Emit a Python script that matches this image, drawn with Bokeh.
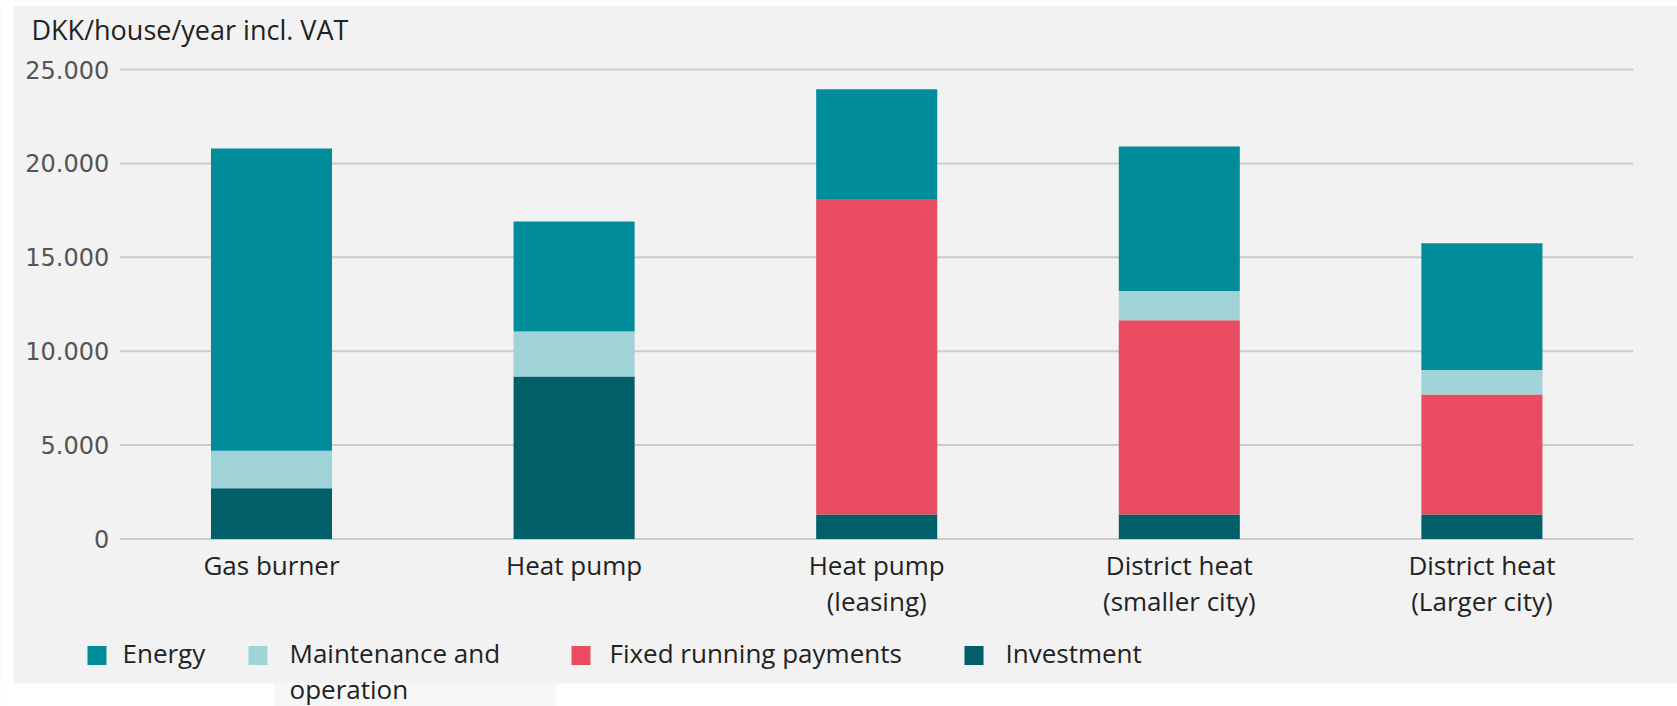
from bokeh.plotting import figure
from bokeh.models import Range1d, FixedTicker, ColumnDataSource
from bokeh.core.properties import value
from bokeh.embed import file_html
from bokeh.resources import INLINE

# ---- data ----
categories = ["Gas burner", "Heat pump", "Heat pump\n(leasing)",
              "District heat\n(smaller city)", "District heat\n(Larger city)"]
investment = [2700, 8650, 1300, 1300, 1300]
fixed_running = [0, 0, 16800, 10350, 6400]
maintenance = [2000, 2400, 0, 1550, 1300]
energy = [16100, 5850, 5850, 7700, 6750]

stack_keys = ["investment", "fixed", "maintenance", "energy"]
stack_colors = ["#005f69", "#e84b62", "#9fd3d8", "#008c9b"]

legend_labels = ["Energy", "Maintenance and\noperation", "Fixed running payments", "Investment"]
legend_colors = ["#008c9b", "#9fd3d8", "#e84b62", "#005f69"]

y_ticks = [0, 5000, 10000, 15000, 20000, 25000]
y_tick_labels = ["0", "5.000", "10.000", "15.000", "20.000", "25.000"]
y_title = "DKK/house/year incl. VAT"

# ---- style / layout (canvas pixels) ----
BG = "#f2f2f2"
TXT = "#222222"
FONT = "Open Sans"
W, H = 1677, 706
SLOT = 302.6          # px per category
X0_PX = 271.0         # px of first category centre
Y0_PX = 538.5         # px of value 0
PX_PER_UNIT = 469.5 / 25000

x_pos = list(range(len(categories)))
x_range = Range1d(-X0_PX / SLOT, (W - X0_PX) / SLOT)
y_range = Range1d(-(H - Y0_PX) / PX_PER_UNIT, Y0_PX / PX_PER_UNIT)

p = figure(x_range=x_range, y_range=y_range, width=W, height=H,
           output_backend="svg", toolbar_location=None,
           min_border=0, min_border_left=0, min_border_right=0,
           min_border_top=0, min_border_bottom=0)
p.title.visible = False
p.background_fill_color = BG
p.border_fill_color = BG
p.outline_line_color = None
p.grid.grid_line_color = None

# pixel helper ranges for page decoration, title and legend
p.extra_x_ranges = {"px": Range1d(0, W)}
p.extra_y_ranges = {"px": Range1d(H, 0)}
PX = dict(x_range_name="px", y_range_name="px")

# white page edges around the grey chart box
p.quad(left=[0, 0, 0], right=[13, W, W], top=[0, 0, 683], bottom=[H, 5, H],
       color="white", line_color=None, **PX)
p.quad(left=[274], right=[556], top=[683], bottom=[H], color="#f7f7f7",
       line_color=None, **PX)

# gridlines (only across the category area)
p.segment(x0=[-0.5] * len(y_ticks), x1=[len(categories) - 0.5] * len(y_ticks),
          y0=y_ticks, y1=y_ticks, line_color="#cbcbcb", line_width=2)

# stacked bars
source = ColumnDataSource(dict(x=x_pos, investment=investment, fixed=fixed_running,
                               maintenance=maintenance, energy=energy))
p.vbar_stack(stack_keys, x="x", width=0.4, color=stack_colors, line_color=None,
             source=source)

# y axis, pinned to the left edge of the category area
p.yaxis.fixed_location = -0.5
p.yaxis.ticker = FixedTicker(ticks=y_ticks)
p.yaxis.major_label_overrides = {t: l for t, l in zip(y_ticks, y_tick_labels)}
p.yaxis.axis_line_color = None
p.yaxis.major_tick_line_color = None
p.yaxis.minor_tick_line_color = None
p.yaxis.major_label_standoff = 5
p.yaxis.major_label_text_font = "DejaVu Sans"
p.yaxis.major_label_text_font_size = "24px"
p.yaxis.major_label_text_color = "#555555"

# x axis with category names, pinned just below zero
p.xaxis.fixed_location = -(545 - Y0_PX) / PX_PER_UNIT
p.xaxis.ticker = FixedTicker(ticks=x_pos)
p.xaxis.major_label_overrides = {i: c for i, c in zip(x_pos, categories)}
p.xaxis.axis_line_color = None
p.xaxis.major_tick_line_color = None
p.xaxis.minor_tick_line_color = None
p.xaxis.major_label_standoff = -5
p.xaxis.major_label_text_font = FONT
p.xaxis.major_label_text_font_size = "26px"
p.xaxis.major_label_text_color = TXT
p.xaxis.major_label_text_line_height = 1.0
p.xaxis.major_label_orientation = "horizontal"

# y-axis title
p.text(x=[31], y=[29], text=[y_title], text_font=value(FONT), text_font_size="27px",
       text_color=TXT, text_baseline="middle", text_align="left", **PX)

# legend
sq_cx = [96.5, 257.5, 580.5, 973.5]
tx_left = [122, 289, 609, 1005]
p.rect(x=sq_cx, y=[655] * 4, width=19, height=19, color=legend_colors,
       line_color=None, **PX)
for lab, tl in zip(legend_labels, tx_left):
    for i, line in enumerate(lab.split("\n")):
        p.text(x=[tl], y=[652 + i * 36], text=[line], text_font=value(FONT),
               text_font_size="26px", text_color=TXT, text_baseline="middle",
               text_align="left", **PX)

open("out.html", "w").write(file_html(p, INLINE))
